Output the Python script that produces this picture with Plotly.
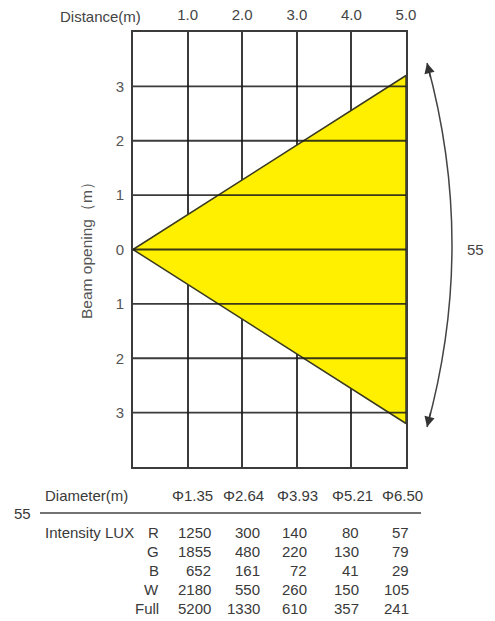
import plotly.graph_objects as go

# ---- data ----
distance_ticks = [1, 2, 3, 4, 5]
distance_labels = ["1.0", "2.0", "3.0", "4.0", "5.0"]
opening_ticks = [-3, -2, -1, 0, 1, 2, 3]
opening_labels = ["3", "2", "1", "0", "1", "2", "3"]
beam_x = [0, 5, 5, 0]
beam_y = [0, 3.2, -3.2, 0]
beam_angle = "55"
diameters = ["Φ1.35", "Φ2.64", "Φ3.93", "Φ5.21", "Φ6.50"]
channels = ["R", "G", "B", "W", "Full"]
lux_R = [1250, 300, 140, 80, 57]
lux_G = [1855, 480, 220, 130, 79]
lux_B = [652, 161, 72, 41, 29]
lux_W = [2180, 550, 260, 150, 105]
lux_Full = [5200, 1330, 610, 357, 241]
lux_rows = [lux_R, lux_G, lux_B, lux_W, lux_Full]

W, H = 495, 621
L, R, T, B = 133, 406, 32, 467
FONT = "Liberation Sans, Arial, Helvetica, sans-serif"
TXT = "#3a3a3a"


def px(x):
    return (x - L) / (R - L)


def py(y):
    return (B - y) / (B - T)


fig = go.Figure()
fig.add_trace(go.Scatter(
    x=beam_x, y=beam_y, mode="lines", fill="toself",
    fillcolor="#FFF000", line=dict(color="#3a3a20", width=1.5),
    hoverinfo="skip", showlegend=False))

grid = "rgba(25,25,25,0.85)"
fig.update_layout(
    width=W, height=H,
    margin=dict(l=L, r=W - R, t=T, b=H - B, pad=0, autoexpand=False),
    paper_bgcolor="white", plot_bgcolor="white",
    font=dict(family=FONT, size=14, color=TXT),
    showlegend=False,
    xaxis=dict(range=[0, 5], side="top", tickvals=distance_ticks,
               ticktext=distance_labels, ticks="", showgrid=True,
               gridcolor=grid, gridwidth=1.8, zeroline=False,
               showline=True, linecolor=grid, linewidth=1.8, mirror=True,
               layer="above traces", ticklabelstandoff=4, automargin=False,
               tickfont=dict(size=15, color="#444")),
    yaxis=dict(range=[-4, 4], tickvals=opening_ticks, ticktext=opening_labels,
               ticks="", showgrid=False, zeroline=False,
               showline=True, linecolor=grid, linewidth=1.8, mirror=True,
               layer="above traces", ticklabelstandoff=4, automargin=False,
               tickfont=dict(size=15, color="#555")),
)

# horizontal grid lines at every metre
for v in range(-3, 4):
    fig.add_shape(type="line", xref="paper", yref="y", x0=0, x1=1, y0=v, y1=v,
                  line=dict(color=grid, width=1.8), layer="above")

ann = []
ann.append(dict(text="Distance(m)", x=px(100), y=py(17), xref="paper", yref="paper",
                showarrow=False, xanchor="center", yanchor="middle",
                font=dict(size=15, color="#444")))
ann.append(dict(text="Beam opening（m）", x=px(87), y=py(247), xref="paper", yref="paper",
                showarrow=False, textangle=-90, xanchor="center", yanchor="middle",
                font=dict(size=15.5, color="#555")))
ann.append(dict(text=beam_angle, x=px(475), y=py(250), xref="paper", yref="paper",
                showarrow=False, xanchor="center", yanchor="middle",
                font=dict(size=15, color="#444")))

# curved beam-angle arc
x0, y0 = px(427), py(63)
x1, y1 = px(427), py(427)
cx, cy = px(477), py(245)
fig.add_shape(type="path", xref="paper", yref="paper",
              path=f"M {x0},{y0} Q {cx},{cy} {x1},{y1}",
              line=dict(color="#444", width=1.5))
ann.append(dict(text="", x=x0, y=y0, xref="paper", yref="paper", showarrow=True,
                ax=4, ay=16, arrowhead=2, arrowsize=1.6, arrowwidth=1.3,
                arrowcolor="#333", standoff=0))
ann.append(dict(text="", x=x1, y=y1, xref="paper", yref="paper", showarrow=True,
                ax=4, ay=-16, arrowhead=2, arrowsize=1.6, arrowwidth=1.3,
                arrowcolor="#333", standoff=0))

# table below
TF = dict(size=15, color=TXT)
ann.append(dict(text="Diameter(m)", x=px(43), y=py(495), xref="paper", yref="paper",
                showarrow=False, xanchor="left", yanchor="middle", font=TF))
diam_x = [192, 243, 297, 352, 402]
for d, xx in zip(diameters, diam_x):
    ann.append(dict(text=d, x=px(xx), y=py(495), xref="paper", yref="paper",
                    showarrow=False, xanchor="center", yanchor="middle", font=TF))
ann.append(dict(text=beam_angle, x=px(22), y=py(513), xref="paper", yref="paper",
                showarrow=False, xanchor="center", yanchor="middle", font=TF))
fig.add_shape(type="line", xref="paper", yref="paper", x0=px(40), x1=px(421),
              y0=py(513), y1=py(513), line=dict(color="#444", width=1.5))
ann.append(dict(text="Intensity LUX", x=px(43), y=py(532), xref="paper", yref="paper",
                showarrow=False, xanchor="left", yanchor="middle", font=TF))
row_y = [532, 551, 570, 589, 608]
col_x = [213, 262, 309, 361, 411]
for ch, vals, yy in zip(channels, lux_rows, row_y):
    ann.append(dict(text=ch, x=px(161), y=py(yy), xref="paper", yref="paper",
                    showarrow=False, xanchor="right", yanchor="middle", font=TF))
    for v, xx in zip(vals, col_x):
        ann.append(dict(text=str(v), x=px(xx), y=py(yy), xref="paper", yref="paper",
                        showarrow=False, xanchor="right", yanchor="middle", font=TF))

fig.update_layout(annotations=ann)
fig.write_html(
    "out.html",
    config={"displayModeBar": False, "responsive": False},
    post_script="document.body.style.margin='0';document.body.style.padding='0';"
                "document.documentElement.style.overflow='hidden';",
)
